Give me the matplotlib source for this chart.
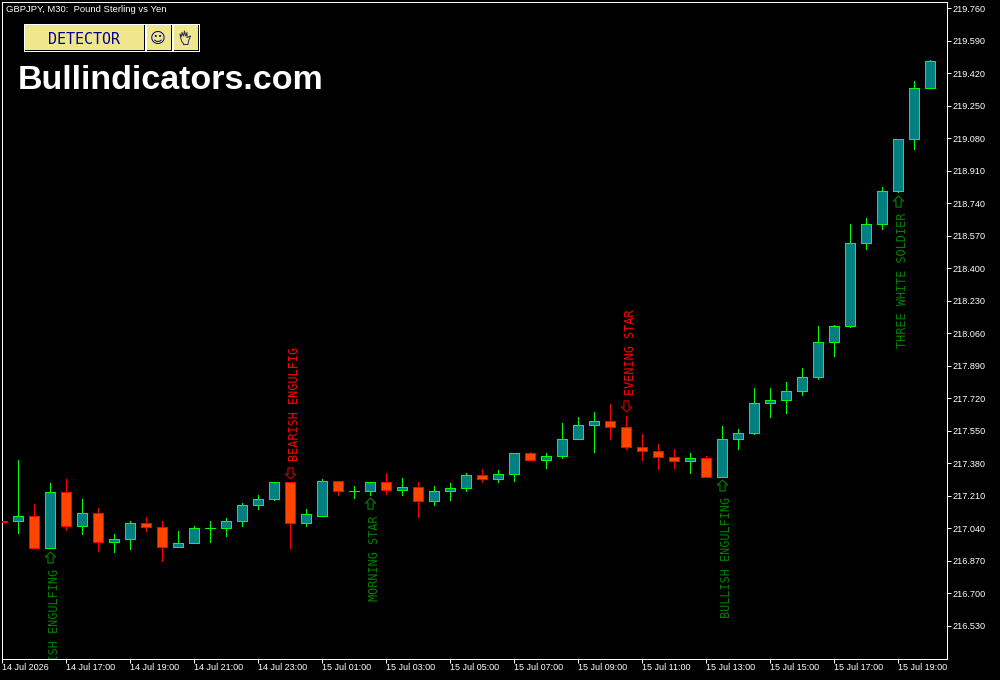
import numpy as np
import matplotlib
matplotlib.use('Agg')
from matplotlib import pyplot as plt
from matplotlib.lines import Line2D
from matplotlib.patches import Rectangle
from matplotlib.transforms import ScaledTranslation

# half hour bars
opens = [217.081, 217.076, 217.105, 216.935, 217.228, 217.050, 217.118, 216.971, 216.982, 217.066,
         217.045, 216.940, 216.961, 217.042, 217.044, 217.076, 217.160, 217.196, 217.280, 217.066,
         217.107, 217.290, 217.238, 217.238, 217.280, 217.243, 217.259, 217.181, 217.233, 217.249,
         217.317, 217.296, 217.322, 217.432, 217.395, 217.421, 217.510, 217.583, 217.599, 217.568,
         217.468, 217.447, 217.411, 217.390, 217.406, 217.311, 217.505, 217.541, 217.698, 217.709,
         217.756, 217.834, 218.017, 218.101, 218.535, 218.634, 218.802, 219.074, 219.341]
highs = [217.081, 217.395, 217.165, 217.275, 217.296, 217.196, 217.149, 217.013, 217.081, 217.102,
         217.081, 217.024, 217.055, 217.081, 217.092, 217.175, 217.212, 217.280, 217.280, 217.139,
         217.296, 217.290, 217.264, 217.280, 217.327, 217.306, 217.280, 217.264, 217.275, 217.332,
         217.353, 217.343, 217.432, 217.442, 217.432, 217.589, 217.620, 217.651, 217.693, 217.630,
         217.536, 217.479, 217.453, 217.432, 217.416, 217.578, 217.562, 217.772, 217.772, 217.803,
         217.881, 218.096, 218.106, 218.634, 218.661, 218.828, 219.074, 219.382, 219.492]
lows = [217.071, 217.018, 216.935, 216.935, 217.034, 217.013, 216.924, 216.914, 216.930, 217.024,
        216.867, 216.940, 216.961, 216.971, 216.998, 217.050, 217.139, 217.191, 216.935, 217.050,
        217.107, 217.212, 217.201, 217.217, 217.222, 217.212, 217.097, 217.160, 217.191, 217.233,
        217.285, 217.285, 217.290, 217.395, 217.358, 217.406, 217.510, 217.442, 217.505, 217.453,
        217.400, 217.348, 217.358, 217.327, 217.311, 217.311, 217.453, 217.531, 217.625, 217.646,
        217.735, 217.819, 217.944, 218.091, 218.499, 218.608, 218.797, 219.022, 219.341]
closes = [217.071, 217.105, 216.935, 217.228, 217.050, 217.118, 216.971, 216.987, 217.066, 217.045,
          216.940, 216.961, 217.044, 217.042, 217.076, 217.160, 217.196, 217.280, 217.066, 217.113,
          217.290, 217.238, 217.238, 217.280, 217.243, 217.259, 217.181, 217.233, 217.249, 217.317,
          217.296, 217.322, 217.432, 217.395, 217.421, 217.510, 217.583, 217.599, 217.568, 217.468,
          217.447, 217.411, 217.390, 217.406, 217.311, 217.505, 217.541, 217.698, 217.709, 217.756,
          217.834, 218.017, 218.101, 218.535, 218.634, 218.802, 219.074, 219.341, 219.482]

price_ticks = [219.760, 219.590, 219.420, 219.250, 219.080, 218.910, 218.740, 218.570, 218.400, 218.230,
               218.060, 217.890, 217.720, 217.550, 217.380, 217.210, 217.040, 216.870, 216.700, 216.530]
time_labels = ['14 Jul 2026', '14 Jul 17:00', '14 Jul 19:00', '14 Jul 21:00', '14 Jul 23:00',
               '15 Jul 01:00', '15 Jul 03:00', '15 Jul 05:00', '15 Jul 07:00', '15 Jul 09:00',
               '15 Jul 11:00', '15 Jul 13:00', '15 Jul 15:00', '15 Jul 17:00', '15 Jul 19:00']
time_ticks = [0, 4, 8, 12, 16, 20, 24, 28, 32, 36, 40, 44, 48, 52, 56]

pattern_bars = [3, 18, 23, 39, 45, 56]
pattern_names = ['BULLISH ENGULFING', 'BEARISH ENGULFIG', 'MORNING STAR', 'EVENING STAR',
                 'BULLISH ENGULFING', 'THREE WHITE SOLDIER']
pattern_dirs = ['up', 'down', 'up', 'down', 'up', 'up']

# hollow block arrow for the pattern marks
ARROW_UP = [(0, 5.5), (5, 0.5), (2.5, 0.5), (2.5, -5.5), (-2.5, -5.5), (-2.5, 0.5), (-5, 0.5), (0, 5.5)]
ARROW_DOWN = [(px, -py) for px, py in ARROW_UP]

W, H = 1000, 680
fig = plt.figure(figsize=(W / 100, H / 100), dpi=100, facecolor='black')
ax = fig.add_axes([2.0 / W, 1 - 659.0 / H, 945 / W, 657 / H], facecolor='black')
ax.set_xlim(0, 945 / 16)
ax.set_ylim(219.8034 - 0.00523 * 659.0, 219.8034 - 0.00523 * 2.0)

o = np.array(opens)
c = np.array(closes)
x = np.arange(len(o))
up = c >= o
PX = 0.72  # one screen pixel in points

# wicks, then bodies on top
ax.vlines(x[up], np.array(lows)[up], np.array(highs)[up], color='#00ff00', lw=PX, antialiased=False)
ax.vlines(x[~up], np.array(lows)[~up], np.array(highs)[~up], color='#ff0000', lw=PX, antialiased=False)
ax.bar(x[up], (c - o)[up], bottom=o[up], width=10 / 16, facecolor='#008080', edgecolor='#00ff00',
       lw=PX, antialiased=False, zorder=3)
ax.bar(x[~up], (c - o)[~up], bottom=o[~up], width=10 / 16, facecolor='#ff4500', edgecolor='#ff0000',
       lw=PX, antialiased=False, zorder=3)

# pattern arrows and names
for bar, name, way in zip(pattern_bars, pattern_names, pattern_dirs):
    if way == 'up':
        shift = ScaledTranslation(0, -8.5 / 100, fig.dpi_scale_trans)
        ax.plot([bar], [lows[bar]], marker=ARROW_UP, ms=8, mfc='none', mec='#007000', mew=1.0,
                transform=ax.transData + shift)
        t = ax.annotate(name, (bar, lows[bar]), xytext=(4, -20.5), textcoords='offset pixels',
                        color='#008000', fontsize=8.5, family='DejaVu Sans Mono', rotation=90,
                        ha='center', va='top', annotation_clip=False)
    else:
        shift = ScaledTranslation(0, 9.5 / 100, fig.dpi_scale_trans)
        ax.plot([bar], [highs[bar]], marker=ARROW_DOWN, ms=8, mfc='none', mec='#b00000', mew=1.0,
                transform=ax.transData + shift)
        t = ax.annotate(name, (bar, highs[bar]), xytext=(4, 21), textcoords='offset pixels',
                        color='#ff0000', fontsize=8.5, family='DejaVu Sans Mono', rotation=90,
                        ha='center', va='bottom', annotation_clip=False)
    t.set_clip_path(ax.patch)
    t.set_clip_on(True)

for s in ax.spines.values():
    s.set_color('white')
    s.set_linewidth(PX)

ax.yaxis.tick_right()
ax.set_yticks(price_ticks)
ax.set_yticklabels(['%.3f' % p for p in price_ticks])
ax.set_xticks(time_ticks)
ax.set_xticklabels(time_labels, ha='left')
ax.tick_params(axis='y', colors='white', length=3.2, width=PX, pad=1, labelsize=6.6, labelfontfamily='Liberation Sans')
ax.tick_params(axis='x', colors='white', length=3.2, width=PX, pad=0, labelsize=6.5, labelfontfamily='Liberation Sans')


def fx(v):
    return v / W


def fy(v):
    return 1 - v / H


def button(x0, y0, x1, y1):
    fig.add_artist(Rectangle((fx(x0), fy(y1)), (x1 - x0) / W, (y1 - y0) / H, transform=fig.transFigure,
                             facecolor='black', edgecolor='white', lw=PX, antialiased=False))
    fig.add_artist(Rectangle((fx(x0 + 1), fy(y1 - 1)), (x1 - x0 - 2) / W, (y1 - y0 - 2) / H,
                             transform=fig.transFigure, facecolor='#f0e68c', edgecolor='none', antialiased=False))


fig.text(fx(6.5), fy(10), 'GBPJPY, M30:  Pound Sterling vs Yen', color='white', fontsize=6.8,
         family='Liberation Sans', va='center')
button(23.5, 23.5, 144.5, 50.5)
button(145.5, 23.5, 171.5, 50.5)
button(172.5, 23.5, 198.5, 50.5)
fig.text(fx(84), fy(39), 'DETECTOR', color='#000090', fontsize=10.8, family='DejaVu Sans Mono',
         ha='center', va='center')
fig.text(fx(158), fy(38), '\u263a', color='#000080', fontsize=11, ha='center', va='center')

# no installed font has the open hand sign, so it is outlined by hand
hand_x = [184, 181.5, 180.5, 180, 181.5, 182, 183.5, 184.5, 185.5, 187, 187, 190.5, 188.5, 188, 184]
hand_y = [44.5, 41, 37, 34, 36.5, 32.5, 36, 31, 36, 32.5, 37.5, 36, 41, 44.5, 44.5]
fig.add_artist(Line2D([fx(v) for v in hand_x], [fy(v) for v in hand_y], color='#303050', lw=PX,
                      transform=fig.transFigure))

fig.text(fx(18), fy(80.5), 'Bullindicators.com', color='white', fontsize=24.5, fontweight='bold',
         family='Liberation Sans', va='center')

fig.savefig('out.png', dpi=100, facecolor='black')
